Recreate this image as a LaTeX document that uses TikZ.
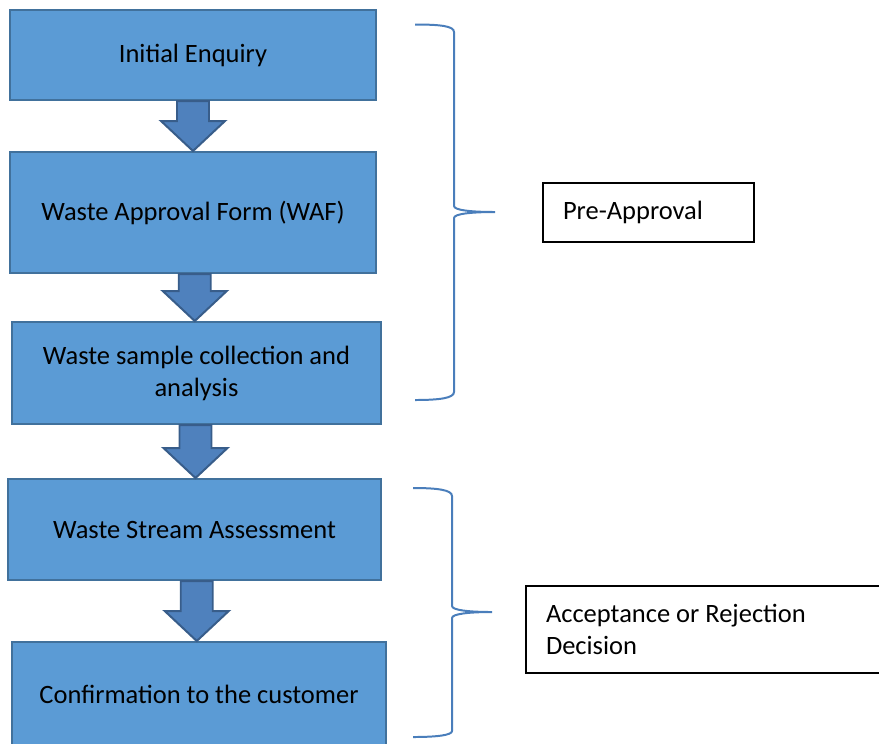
\documentclass[tikz,border=0pt]{standalone}
\usepackage{fontspec}
\setmainfont{Carlito}
\usepackage{tikz}
\usetikzlibrary{calc}

\definecolor{boxfill}{HTML}{5B9BD5}
\definecolor{boxline}{HTML}{41719C}
\definecolor{arrowfill}{HTML}{4F81BD}
\definecolor{arrowline}{HTML}{385D8A}
\definecolor{bracecol}{HTML}{4A7EBB}

\tikzset{
  stepbox/.style={draw=boxline, fill=boxfill, line width=1.7pt, align=center,
    font=\fontsize{22.6}{27.3}\selectfont},
  blockarrow/.style={draw=arrowline, fill=arrowfill, line width=1.7pt, line join=miter},
  bracket/.style={draw=bracecol, line width=1.7pt},
  phasebox/.style={draw=black, line width=0.9pt, align=flush left, inner sep=0pt,
    font=\fontsize{22.6}{27.9}\selectfont}
}

\begin{document}
\begin{tikzpicture}[x=0.03cm, y=-0.03cm]
        \useasboundingbox (0,0) rectangle (879,743);
        % flow boxes
        \node[stepbox, minimum width=10.98cm, minimum height=2.7cm] (enq) at (193,55) {Initial Enquiry};
        \node[stepbox, minimum width=10.98cm, minimum height=3.63cm] (waf) at (193,212.5) {Waste Approval Form (WAF)};
        \node[stepbox, minimum width=11.07cm, minimum height=3.06cm] (sample) at (196.5,373) {Waste sample collection and\\analysis};
        \node[stepbox, minimum width=11.19cm, minimum height=3.03cm] (assess) at (194.5,529.5) {Waste Stream Assessment};
        \node[stepbox, minimum width=11.22cm, minimum height=3.12cm] (confirm) at (199,694) {Confirmation to the customer};
        % block arrows
        \foreach \a/\b in {enq/waf, waf/sample, sample/assess, assess/confirm} {
            \coordinate (m) at ($(\a.south)!0.5!(\b.north)$);
            \draw[blockarrow] ($(m |- \a.south)+(-16,0)$) -- ($(m |- \a.south)+(16,0)$)
                -- ($(m |- \b.north)+(16,-30)$) -- ($(m |- \b.north)+(32,-30)$)
                -- (m |- \b.north) -- ($(m |- \b.north)+(-32,-30)$)
                -- ($(m |- \b.north)+(-16,-30)$) -- cycle;
        }
        % braces
        \draw[bracket] (415,24.5) .. controls (440,24.5) and (454,26) .. (454,32) -- (454,206)
            .. controls (454,210) and (470,212) .. (495,212)
            .. controls (470,212) and (454,214) .. (454,218) -- (454,392)
            .. controls (454,398) and (440,400) .. (415,400);
        \draw[bracket] (413,488) .. controls (438,488) and (452,490) .. (452,496) -- (452,606)
            .. controls (452,610) and (468,612) .. (492,612)
            .. controls (468,612) and (452,614) .. (452,618) -- (452,731)
            .. controls (452,735) and (438,737) .. (413,737);
        % phase labels
        \node[phasebox, minimum width=6.33cm, minimum height=1.77cm, text width=5.13cm] (pre) at (648.5,212.5) {Pre-Approval};
        \node[phasebox, minimum width=10.74cm, minimum height=2.61cm, text width=9.54cm] (decide) at (705,629.5) {Acceptance or Rejection\\Decision};
\end{tikzpicture}
\end{document}
